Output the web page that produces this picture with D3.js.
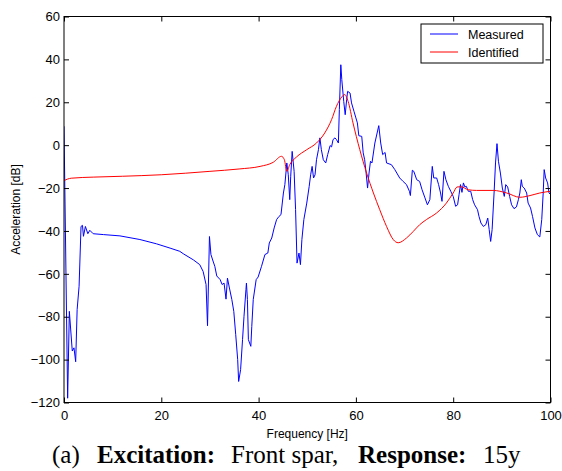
<!DOCTYPE html>
<html>
<head>
<meta charset="utf-8">
<script src="https://cdn.jsdelivr.net/npm/d3@7"></script>
<style>
  body { margin: 0; background: #fff; }
  svg text { font-family: Arial, "Liberation Sans", sans-serif; }
</style>
</head>
<body>
<div id="chart"></div>
<script>
// measured response (blue), frequency [Hz] and acceleration [dB]
const measuredFreq = [
    0, 0.75, 1.1, 1.7, 2.05, 2.4, 2.7, 3.1, 3.5, 3.8, 4.0, 4.4, 4.9, 5.3, 6.0, 8.1, 11.5, 15.6, 19.0, 21.8,
    23.8, 24.5, 26.6, 27.9, 28.6, 29.2, 29.5, 29.9, 30.2, 30.7, 31.0, 31.4, 32.1, 32.5, 32.9, 33.3, 33.6, 34.0, 34.5, 34.9,
    35.3, 35.7, 35.9, 36.3, 36.7, 37.0, 37.4, 37.5, 37.7, 37.9, 38.4, 38.6, 38.9, 39.5, 39.9, 40.6, 41.3, 41.9, 42.2, 42.7,
    43.2, 43.7, 44.2, 44.6, 45.1, 45.4, 45.8, 46.1, 46.4, 46.6, 46.9, 47.3, 47.6, 47.9, 48.3, 48.6, 48.9, 49.3, 49.9, 50.4,
    50.7, 51.0, 51.3, 51.6, 51.9, 52.3, 52.6, 52.9, 53.3, 53.8, 54.2, 54.7, 55.0, 55.3, 55.7, 56.0, 56.4, 56.6, 56.9, 57.1,
    57.5, 57.8, 58.1, 58.3, 58.8, 59.1, 59.6, 60.0, 60.3, 60.6, 61.2, 61.5, 61.8, 62.1, 62.4, 62.7, 63.0, 63.3, 63.9, 64.7,
    65.1, 65.5, 66.0, 66.3, 67.3, 68.0, 69.0, 69.7, 70.4, 71.0, 71.2, 71.6, 71.9, 72.5, 73.1, 73.6, 74.2, 74.7, 75.2, 75.7,
    76.0, 76.6, 77.0, 77.4, 77.7, 78.1, 78.5, 79.0, 79.5, 80.0, 80.5, 80.9, 81.2, 81.5, 81.8, 82.1, 82.4, 82.7, 83.1, 83.6,
    84.0, 84.4, 85.0, 85.3, 85.7, 86.2, 86.7, 87.1, 87.4, 87.7, 88.0, 88.4, 88.7, 89.0, 89.3, 89.7, 90.1, 90.5, 90.8, 91.2,
    91.6, 92.0, 92.5, 93.0, 93.4, 93.7, 94.0, 94.2, 94.6, 95.1, 95.4, 95.9, 96.3, 96.8, 97.3, 97.8, 98.2, 98.5, 98.7, 99.0,
    99.4, 99.7, 100
];
const measuredDb = [
    8.8, -118, -77.5, -96, -94.5, -101, -76.7, -65.8, -37.9, -37.4, -42.5, -37.9, -41.3, -39.7, -41.3, -41.7, -42.3, -44, -46, -48,
    -49.5, -50.6, -53.5, -55.7, -58.9, -65, -84.2, -42.6, -51, -54.5, -56.5, -61, -62.7, -65, -64.3, -71.8, -62, -66.6, -72, -77.5,
    -88.4, -100, -110.2, -104.7, -90.7, -79.8, -67.4, -64.3, -72, -90.7, -93.8, -84.5, -72, -62.7, -61.5, -56.5, -51, -50.3, -45.6, -43.3,
    -38.6, -34.7, -33.2, -32.4, -22.3, -18.4, -8.3, -13.8, -25.4, -14.5, -2.9, -12.2, -30, -55, -50.3, -55.7, -44, -34.7, -27, -19.2,
    -13.8, -9.9, -15.3, -13.8, -6.8, -2.1, 3.4, -2.1, -6.8, -8.3, -4.4, -0.2, -0.8, 2.6, 3.4, 2.6, 1.0, 16.6, 37.5, 30.6,
    20.4, 14.2, 21.2, 25.1, 24.3, 19.7, 15.8, 12.7, 10.4, 4.4, 4.1, -3.6, -6.8, -13, -20, -13, -7.5, -8.3, 1.0, 9.1,
    1.0, -4.4, -3.4, -8.3, -9.1, -11.4, -15.3, -16.9, -18.4, -21.5, -23.5, -11.7, -12.2, -16.1, -16.9, -20.8, -24.6, -27.8, -25.4, -9.9,
    -15.3, -15.3, -18.4, -22.3, -26.2, -12.2, -16.1, -19.2, -21.5, -23.9, -28.5, -27.8, -23.1, -18.4, -22, -17.6, -19.5, -19.2, -21.5, -21.5,
    -25.4, -27.8, -30.1, -33.2, -36.3, -37.9, -37.1, -34, -39.4, -44.9, -39.4, -22.3, -8.3, 0.7, -7.5, -13, -20, -23.9, -18.4, -19.5,
    -23.9, -27.8, -29.6, -28.8, -25.4, -22.3, -16.1, -19.2, -20, -22.3, -27, -29.3, -33.2, -38.6, -41.7, -42.8, -34.7, -22.3, -11.4, -15.3,
    -17.6, -22.3, -23
];

// identified model (red)
const identifiedFreq = [
    0, 1.5, 6, 12, 20, 30, 36, 40.3, 43.0, 44.7, 45.3, 45.8, 46.4, 47.8, 49.9, 51.9, 53.6, 55.0, 56.0, 57.1,
    57.7, 58.4, 59.4, 60.8, 62.2, 63.6, 64.9, 66.3, 67.7, 68.7, 70.4, 71.8, 73.1, 74.5, 76.6, 78.6, 80.0, 80.8, 81.6, 83.1,
    84.8, 88.2, 91.0, 93.7, 95.8, 97.8, 100
];
const identifiedDb = [
    -16.5, -15.4, -14.9, -14.5, -13.8, -12.2, -11.1, -9.9, -8.0, -5.2, -6.8, -12.2, -9.1, -5.5, -2.1, 1.0, 5.7, 11.9, 18.1, 22.5,
    23.6, 20.4, 10.4, -2.1, -13, -22.3, -30.1, -37.9, -44.1, -45.5, -43.3, -40.2, -37.1, -34.7, -31.6, -27, -22.3, -19.5, -19.4, -20.8,
    -21.1, -21.1, -22.3, -24.3, -23.5, -22.3, -21.5
];

const xTicks = [0, 20, 40, 60, 80, 100];
const yTicks = [-120, -100, -80, -60, -40, -20, 0, 20, 40, 60];
const legendLabels = ['Measured', 'Identified'];
const seriesColors = ['#0000ff', '#ff0000'];

// caption pieces: text, bold?, left x (justified line)
const captionParts = [
    ['(a)', false, 52],
    ['Excitation:', true, 97],
    ['Front spar,', false, 231],
    ['Response:', true, 358],
    ['15y', false, 483]
];

const width = 562;
const height = 471;
const plotLeft = 64, plotRight = 550.5, plotTop = 16.5, plotBottom = 402.5;

const svg = d3.select('#chart')
    .append('svg')
    .attr('width', width)
    .attr('height', height);

const x = d3.scaleLinear().domain([0, 100]).range([plotLeft, plotRight]);
const y = d3.scaleLinear().domain([-120, 60]).range([plotBottom, plotTop]);

const measured = measuredFreq.map((f, i) => [f, measuredDb[i]]);
const identified = identifiedFreq.map((f, i) => [f, identifiedDb[i]]);

// clip to plot box
svg.append('clipPath').attr('id', 'plot-clip')
    .append('rect')
    .attr('x', plotLeft).attr('y', plotTop)
    .attr('width', plotRight - plotLeft).attr('height', plotBottom - plotTop);

const plot = svg.append('g').attr('clip-path', 'url(#plot-clip)');

const line = d3.line().x(d => x(d[0])).y(d => y(d[1]));

plot.append('path')
    .datum(measured)
    .attr('fill', 'none')
    .attr('stroke', seriesColors[0])
    .attr('stroke-width', 1)
    .attr('stroke-linejoin', 'round')
    .attr('d', line);

plot.append('path')
    .datum(identified)
    .attr('fill', 'none')
    .attr('stroke', seriesColors[1])
    .attr('stroke-width', 1)
    .attr('stroke-linejoin', 'round')
    .attr('d', line.curve(d3.curveMonotoneX));

// axes, ticks pointing inward on all four sides
const tickLen = 5;
const axisStyle = g => {
    g.select('.domain').remove();
    g.selectAll('.tick line').attr('stroke', '#000');
    g.selectAll('.tick text').attr('fill', '#000').attr('font-size', 13);
};

svg.append('g')
    .attr('transform', `translate(0,${plotBottom})`)
    .call(d3.axisBottom(x).tickValues(xTicks).tickSize(-tickLen).tickPadding(8))
    .call(axisStyle);

svg.append('g')
    .attr('transform', `translate(0,${plotTop})`)
    .call(d3.axisTop(x).tickValues(xTicks).tickSize(-tickLen).tickFormat(''))
    .call(axisStyle);

svg.append('g')
    .attr('transform', `translate(${plotLeft},0)`)
    .call(d3.axisLeft(y).tickValues(yTicks).tickSize(-tickLen).tickPadding(4))
    .call(axisStyle);

svg.append('g')
    .attr('transform', `translate(${plotRight},0)`)
    .call(d3.axisRight(y).tickValues(yTicks).tickSize(-tickLen).tickFormat(''))
    .call(axisStyle);

svg.append('rect')
    .attr('x', plotLeft).attr('y', plotTop)
    .attr('width', plotRight - plotLeft).attr('height', plotBottom - plotTop)
    .attr('fill', 'none')
    .attr('stroke', '#000')
    .attr('stroke-width', 1);

// axis titles
svg.append('text')
    .attr('x', (plotLeft + plotRight) / 2)
    .attr('y', 438)
    .attr('text-anchor', 'middle')
    .attr('font-size', 12)
    .text('Frequency [Hz]');

svg.append('text')
    .attr('transform', `translate(20,${(plotTop + plotBottom) / 2}) rotate(-90)`)
    .attr('text-anchor', 'middle')
    .attr('font-size', 12)
    .text('Acceleration [dB]');

// legend
const legend = svg.append('g').attr('transform', 'translate(421,24)');
legend.append('rect')
    .attr('width', 122).attr('height', 39)
    .attr('fill', '#fff')
    .attr('stroke', '#000');
legendLabels.forEach((label, i) => {
    const ly = 10 + i * 18;
    legend.append('line')
        .attr('x1', 9).attr('x2', 37)
        .attr('y1', ly).attr('y2', ly)
        .attr('stroke', seriesColors[i]);
    legend.append('text')
        .attr('x', 47).attr('y', ly + 4.5)
        .attr('font-size', 12.5)
        .text(label);
});

// caption (justified line, so each piece is placed on its own)
const caption = svg.append('text')
    .attr('y', 463)
    .attr('font-size', 25)
    .style('font-family', '"Times New Roman", "Liberation Serif", serif');
captionParts.forEach(([txt, bold, px]) => {
    caption.append('tspan')
        .attr('x', px)
        .attr('font-weight', bold ? 'bold' : 'normal')
        .text(txt);
});
</script>
</body>
</html>
